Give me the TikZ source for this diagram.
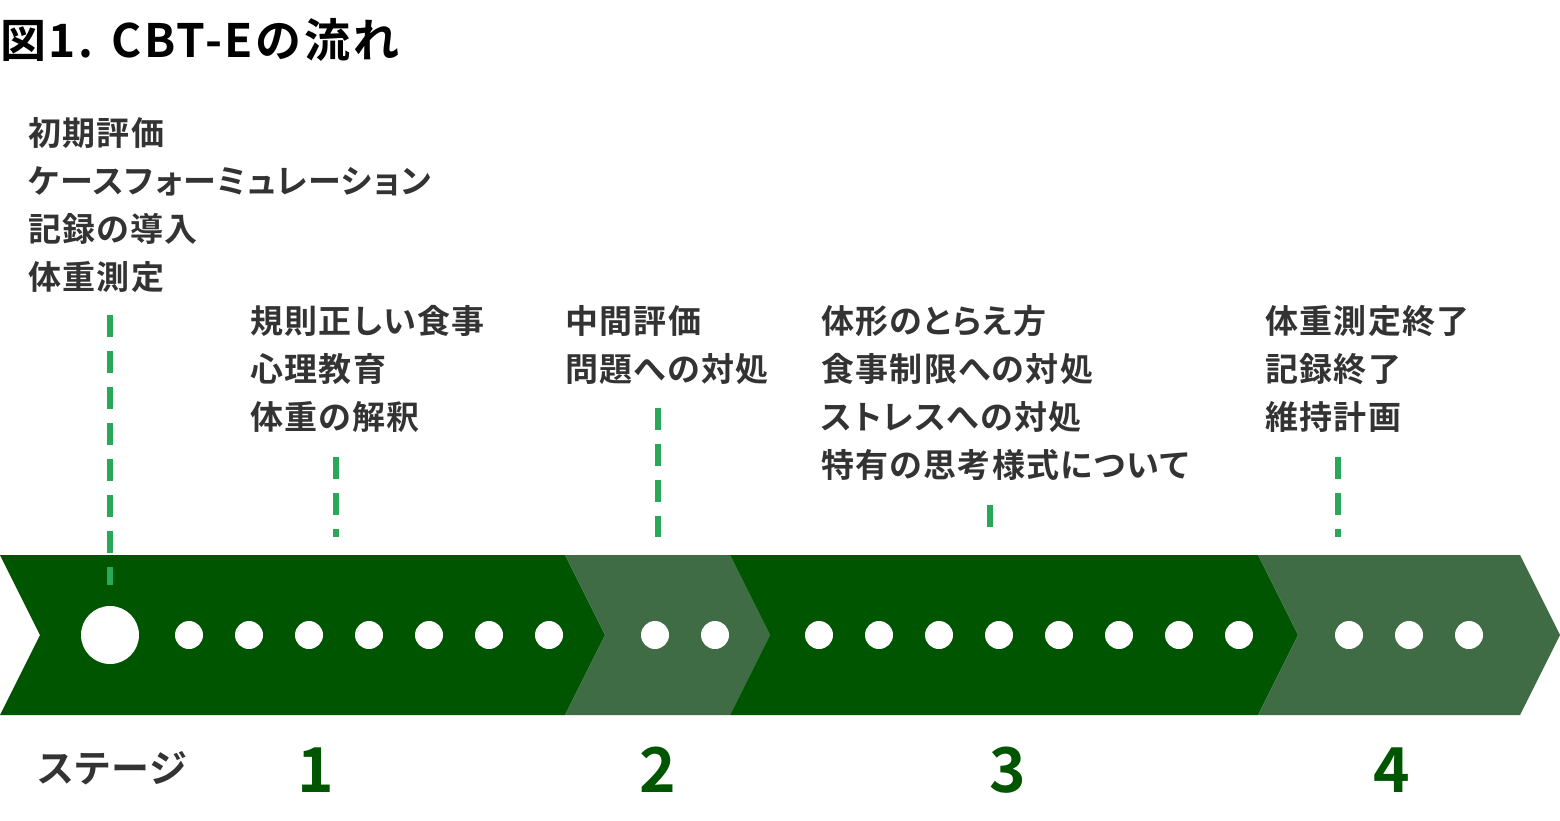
\documentclass[tikz,border=0pt]{standalone}
\usepackage{fontspec}
\setmainfont{Noto Sans CJK JP}[BoldFont={Noto Sans CJK JP Bold},RawFeature=+palt]
\newfontfamily\ttlfont{Noto Sans CJK JP Bold}[LetterSpace=6]
\newfontfamily\lblfont{Noto Sans CJK JP Bold}[LetterSpace=4,RawFeature=+palt]
\begin{document}
\begin{tikzpicture}[x=1pt,y=-1pt,
  lbl/.style={anchor=west,inner sep=0,font=\fontsize{33}{33}\selectfont\lblfont,text=black!80},
  num/.style={inner sep=0,font=\fontsize{62}{62}\selectfont\bfseries,text=dg},
  gdash/.style={draw=mg,line width=6,dash pattern=on 22 off 14},
  dot/.style={circle,fill=white,inner sep=0,minimum size=28}]
\definecolor{dg}{HTML}{005500}
\definecolor{lg}{HTML}{3F6B45}
\definecolor{mg}{HTML}{2AA85A}
\useasboundingbox (0,0) rectangle (1560,820);
\node[anchor=west,inner sep=0,font=\fontsize{46}{46}\selectfont\ttlfont] (title) at (0,40) {図1. CBT-Eの流れ};
\fill[dg] (0,555)--(565,555)--(605,635)--(565,715)--(0,715)--(40,635)--cycle;
\fill[lg] (565,555)--(730,555)--(770,635)--(730,715)--(565,715)--(605,635)--cycle;
\fill[dg] (730,555)--(1258,555)--(1298,635)--(1258,715)--(730,715)--(770,635)--cycle;
\fill[lg] (1258,555)--(1520,555)--(1560,635)--(1520,715)--(1258,715)--(1298,635)--cycle;
\node[dot,minimum size=58] (b0) at (110,635) {};
\foreach \x [count=\i] in {189,249,...,549}{\node[dot] (d1\i) at (\x,635) {};}
\foreach \x [count=\i] in {655,715}{\node[dot] (d2\i) at (\x,635) {};}
\foreach \x [count=\i] in {819,879,...,1239}{\node[dot] (d3\i) at (\x,635) {};}
\foreach \x [count=\i] in {1349,1409,1469}{\node[dot] (d4\i) at (\x,635) {};}
\coordinate (c0a) at (110,315); \coordinate (c0b) at (110,585);
\coordinate (c1a) at (336,457); \coordinate (c1b) at (336,537);
\coordinate (c2a) at (658,408); \coordinate (c2b) at (658,537);
\coordinate (c3a) at (990,505); \coordinate (c3b) at (990,537);
\coordinate (c4a) at (1338,457); \coordinate (c4b) at (1338,537);
\foreach \k in {0,...,4}{\draw[gdash] (c\k a)--(c\k b);}
\node[lbl] (a1) at (28,133) {初期評価};
\node[lbl] (a2) at (28,181) {ケースフォーミュレーション};
\node[lbl] (a3) at (28,229) {記録の導入};
\node[lbl] (a4) at (28,277) {体重測定};
\node[lbl] (e1) at (250,321) {規則正しい食事};
\node[lbl] (e2) at (250,369) {心理教育};
\node[lbl] (e3) at (250,417) {体重の解釈};
\node[lbl] (f1) at (565,321) {中間評価};
\node[lbl] (f2) at (565,369) {問題への対処};
\node[lbl] (g1) at (821,321) {体形のとらえ方};
\node[lbl] (g2) at (821,369) {食事制限への対処};
\node[lbl] (g3) at (821,417) {ストレスへの対処};
\node[lbl] (g4) at (821,465) {特有の思考様式について};
\node[lbl] (h1) at (1265,321) {体重測定終了};
\node[lbl] (h2) at (1265,369) {記録終了};
\node[lbl] (h3) at (1265,417) {維持計画};
\node[lbl,font=\fontsize{38}{38}\selectfont\lblfont] (st) at (38,768) {ステージ};
\node[num] (n1) at (316,770) {1};
\node[num] (n2) at (658,770) {2};
\node[num] (n3) at (1008,770) {3};
\node[num] (n4) at (1392,770) {4};
\end{tikzpicture}
\end{document}
